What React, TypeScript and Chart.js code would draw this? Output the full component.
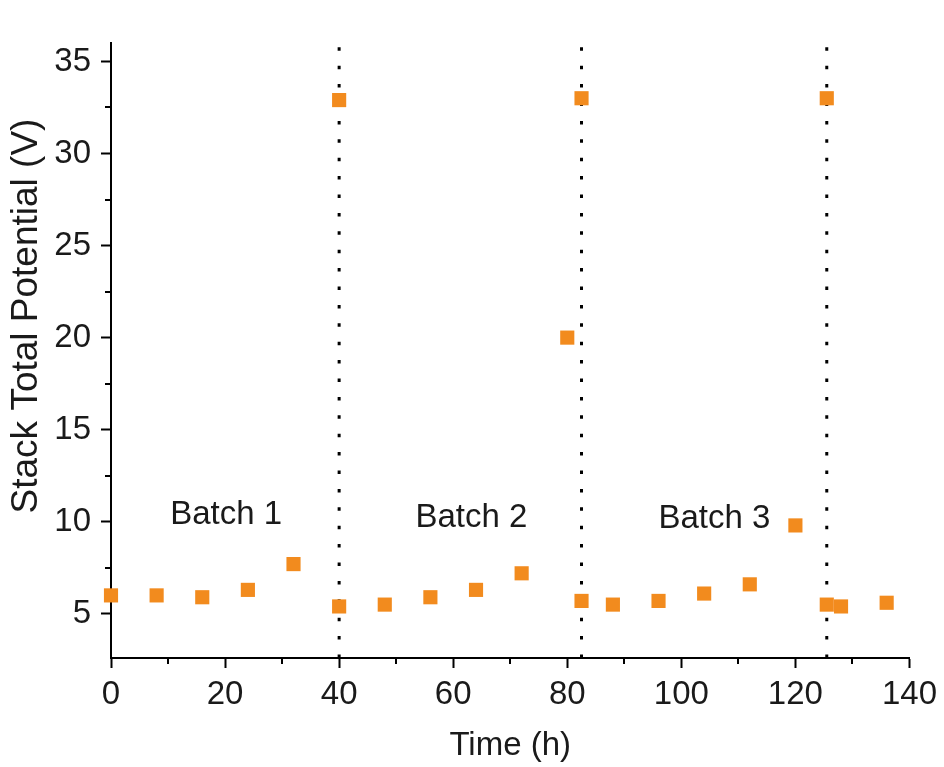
import React, { useEffect, useRef } from 'react';
import { Chart, registerables } from 'chart.js';

Chart.register(...registerables);

// ---- data ----
const timeH = [0, 8, 16, 24, 32, 40, 40, 48, 56, 64, 72, 80, 82.5, 82.5, 88, 96, 104, 112, 120, 125.5, 125.5, 128, 136];
const potentialV = [6.0, 6.0, 5.9, 6.3, 7.7, 5.4, 32.9, 5.5, 5.9, 6.3, 7.2, 20.0, 5.7, 33.0, 5.5, 5.7, 6.1, 6.6, 9.8, 5.5, 33.0, 5.4, 5.6];
const batchEnds = [40, 82.5, 125.5];
const batchLabels = ['Batch 1', 'Batch 2', 'Batch 3'];
const batchLabelTime = [20.2, 63.2, 105.8];
const batchLabelV = [10.35, 10.2, 10.15];
const X_MIN = 0;
const X_MAX = 140;
const X_MAJOR = 20;
const Y_MIN = 2.6;
const Y_MAX = 36;
const Y_MAJOR = 5;
const xTitle = 'Time (h)';
const yTitle = 'Stack Total Potential (V)';

const FONT = '"Liberation Sans", Arial, Helvetica, sans-serif';
const ORANGE = '#F28B1E';
const TEXT = '#1a1a1a';

const isMajor = (v: number, step: number) => Math.abs(v / step - Math.round(v / step)) < 1e-6;

const annotationPlugin = {
  id: 'annotations',
  afterDatasetsDraw(chart: any) {
    const { ctx, scales, chartArea } = chart;
    const xs = scales.x;
    const ys = scales.y;
    ctx.save();
    // minor ticks (shorter)
    ctx.strokeStyle = '#000';
    ctx.lineWidth = 2;
    ctx.beginPath();
    xs.ticks.forEach((t: any) => {
      if (!isMajor(t.value, X_MAJOR)) {
        const px = Math.round(xs.getPixelForValue(t.value));
        ctx.moveTo(px, chartArea.bottom);
        ctx.lineTo(px, chartArea.bottom + 6);
      }
    });
    ys.ticks.forEach((t: any) => {
      if (!isMajor(t.value, Y_MAJOR)) {
        const py = Math.round(ys.getPixelForValue(t.value));
        ctx.moveTo(chartArea.left, py);
        ctx.lineTo(chartArea.left - 6, py);
      }
    });
    ctx.stroke();

    ctx.fillStyle = TEXT;
    ctx.font = `33px ${FONT}`;
    ctx.textAlign = 'center';
    ctx.textBaseline = 'middle';
    batchLabels.forEach((t, i) => {
      ctx.fillText(t, xs.getPixelForValue(batchLabelTime[i]), ys.getPixelForValue(batchLabelV[i]));
    });
    // y-axis title
    ctx.translate(27, 316);
    ctx.rotate(-Math.PI / 2);
    ctx.font = `37px ${FONT}`;
    ctx.fillText(yTitle, 0, 0);
    ctx.restore();
  },
};

export default function App() {
  const canvasRef = useRef<HTMLCanvasElement | null>(null);

  useEffect(() => {
    if (!canvasRef.current) return;
    const points = timeH.map((t, i) => ({ x: t, y: potentialV[i] }));
    const lineSets = batchEnds.map((b) => ({
      label: 'end',
      data: [
        { x: b, y: Y_MIN },
        { x: b, y: Y_MAX },
      ],
      showLine: true,
      borderColor: '#000',
      borderWidth: 3,
      borderDash: [3.5, 14.9],
      borderCapStyle: 'butt',
      pointRadius: 0,
      pointHoverRadius: 0,
    }));

    const chart = new Chart(canvasRef.current, {
      type: 'scatter',
      data: {
        datasets: [
          {
            label: 'Potential',
            data: points,
            pointStyle: 'rect',
            pointRadius: 10,
            pointBackgroundColor: ORANGE,
            pointBorderColor: ORANGE,
            pointBorderWidth: 0,
            clip: false,
          } as any,
          ...(lineSets as any[]),
        ],
      },
      options: {
        animation: false,
        responsive: false,
        layout: { padding: { top: 43, right: 32, left: 0, bottom: 0 } },
        plugins: { legend: { display: false }, tooltip: { enabled: false } },
        scales: {
          x: {
            type: 'linear',
            min: X_MIN,
            max: X_MAX,
            afterFit: (s: any) => {
              s.height = 109;
            },
            border: { color: '#000', width: 2 },
            grid: {
              drawOnChartArea: false,
              drawTicks: true,
              tickLength: 10,
              tickWidth: 2,
              tickColor: (c: any) => (c.tick && isMajor(c.tick.value, X_MAJOR) ? '#000' : 'rgba(0,0,0,0)'),
            },
            ticks: {
              stepSize: 10,
              padding: 7,
              maxRotation: 0,
              autoSkip: false,
              color: TEXT,
              font: { family: FONT, size: 33 },
              callback: (v: any) => (isMajor(Number(v), X_MAJOR) ? String(v) : ''),
            },
            title: {
              display: true,
              text: xTitle,
              color: TEXT,
              font: { family: FONT, size: 33 },
              padding: { top: 0, bottom: 1 },
            },
          },
          y: {
            type: 'linear',
            min: Y_MIN,
            max: Y_MAX,
            afterFit: (s: any) => {
              s.width = 111;
            },
            border: { color: '#000', width: 2 },
            grid: {
              drawOnChartArea: false,
              drawTicks: true,
              tickLength: 10,
              tickWidth: 2,
              tickColor: (c: any) => (c.tick && isMajor(c.tick.value, Y_MAJOR) ? '#000' : 'rgba(0,0,0,0)'),
            },
            ticks: {
              stepSize: 2.5,
              includeBounds: false,
              padding: 10,
              autoSkip: false,
              color: TEXT,
              font: { family: FONT, size: 33 },
              callback: (v: any) => (isMajor(Number(v), Y_MAJOR) ? String(v) : ''),
            },
          },
        },
      },
      plugins: [annotationPlugin],
    } as any);

    return () => chart.destroy();
  }, []);

  return (
    <div style={{ position: 'fixed', left: 0, top: 0, width: 944, height: 767, background: '#fff' }}>
      <canvas ref={canvasRef} width={944} height={767} style={{ display: 'block' }} />
    </div>
  );
}
